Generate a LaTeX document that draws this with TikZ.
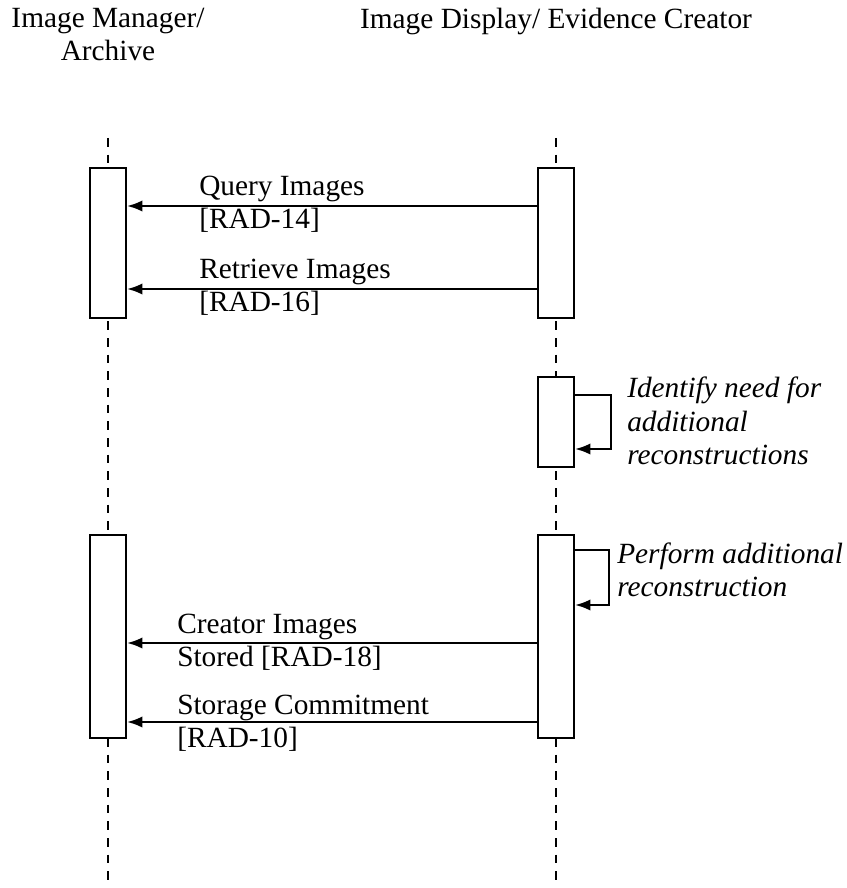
\documentclass[tikz,border=0pt]{standalone}
\usepackage{fontspec}
\setmainfont{Liberation Serif}
\usetikzlibrary{arrows.meta}

\begin{document}
\begin{tikzpicture}[x=0.75pt,y=-0.75pt,>={Latex[length=11.5pt,width=8.5pt]},
  every node/.style={font=\fontsize{22}{25}\selectfont},
  lane/.style={line width=1.2pt,dash pattern=on 6.5pt off 6pt},
  bar/.style={draw,fill=white,line width=1.6pt,minimum width=27pt,inner sep=0pt},
  msg/.style={->,line width=1.6pt},
  lbl/.style={align=left,anchor=west,inner sep=0pt}]
\useasboundingbox (0,0) rectangle (846,888);

\node[anchor=north,inner sep=0pt,align=center] (imgr) at (108,8) {Image Manager/\\ Archive};
\node[anchor=north,inner sep=0pt] (idisp) at (556,8) {Image Display/ Evidence Creator};

\foreach \x in {108,556}
{
   \draw[lane] (\x,138)--(\x,888);
}

\node[bar,minimum height=112.5pt] (l1) at (108,243) {};
\node[bar,minimum height=112.5pt] (r1) at (556,243) {};
\node[bar,minimum height=67.5pt] (r2) at (556,422) {};
\node[bar,minimum height=152pt] (l2) at (108,636.5) {};
\node[bar,minimum height=152pt] (r3) at (556,636.5) {};

\draw[msg] (r1.west |- 0,206)--(l1.east |- 0,206);
\node[lbl] (qry) at (199,204) {Query Images\\ {[RAD-14]}};
\draw[msg] (r1.west |- 0,289)--(l1.east |- 0,289);
\node[lbl] (ret) at (199,287) {Retrieve Images\\ {[RAD-16]}};

\draw[msg] (r2.east |- 0,395) -| (611,449)--(r2.east |- 0,449);
\node[lbl,font=\fontsize{22}{25}\selectfont\itshape] (idn) at (627,421) {Identify need for\\ additional\\ reconstructions};

\draw[msg] (r3.east |- 0,550) -| (609,605)--(r3.east |- 0,605);
\node[lbl,font=\fontsize{22}{25}\selectfont\itshape] (perf) at (617,570) {Perform additional\\ reconstruction};

\draw[msg] (r3.west |- 0,643)--(l2.east |- 0,643);
\node[lbl] (cre) at (177,642) {Creator Images\\ Stored [RAD-18]};
\draw[msg] (r3.west |- 0,722)--(l2.east |- 0,722);
\node[lbl] (stc) at (177,723) {Storage Commitment\\ {[RAD-10]}};
\end{tikzpicture}
\end{document}
